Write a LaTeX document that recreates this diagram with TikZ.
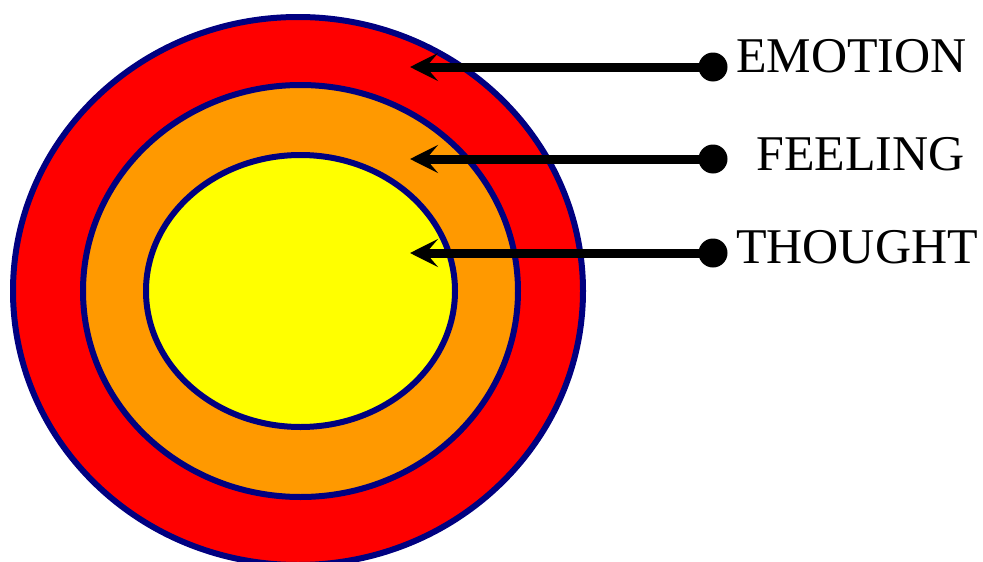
\documentclass[tikz,border=0pt]{standalone}
\usepackage{xcolor}
\usepackage{tikz}
\usepackage{fontspec}
\setmainfont{Liberation Serif}
\usetikzlibrary{shapes.geometric,arrows.meta}
\definecolor{RingBlue}{HTML}{000080}
\definecolor{EmoRed}{HTML}{FF0000}
\definecolor{FeelOrange}{HTML}{FF9900}
\definecolor{ThoughtYellow}{HTML}{FFFF00}

\tikzset{
  ring/.style={ellipse, draw=RingBlue, line width=6pt, inner sep=0pt},
  pin/.style={circle, fill=black, inner sep=0pt, minimum size=29pt},
  pointer/.style={line width=9pt, -{Stealth[length=28pt, width=28pt, inset=12pt]}},
  tag/.style={anchor=base west, inner sep=0pt, font=\fontsize{50}{60}\selectfont}
}

\begin{document}
\begin{tikzpicture}[x=1pt, y=-1pt]
        \useasboundingbox (0,0) rectangle (983,562);
        % the three rings
        \node[ring, fill=EmoRed, minimum width=570pt, minimum height=548pt] (emotion) at (298,291) {};
        \node[ring, fill=FeelOrange, minimum width=435pt, minimum height=412pt] (feeling) at (300.5,291) {};
        \node[ring, fill=ThoughtYellow, minimum width=309pt, minimum height=272pt] (thought) at (300.5,291) {};
        % arrow targets
        \coordinate (tEmotion) at (410,67);
        \coordinate (tFeeling) at (410,159);
        \coordinate (tThought) at (410,253);
        % dots
        \node[pin] (pEmotion) at (713,67) {};
        \node[pin] (pFeeling) at (713,159) {};
        \node[pin] (pThought) at (713,253) {};
        \draw[pointer] (pEmotion.center) -- (tEmotion);
        \draw[pointer] (pFeeling.center) -- (tFeeling);
        \draw[pointer] (pThought.center) -- (tThought);
        % labels
        \node[tag] (lEmotion) at (736,72) {EMOTION};
        \node[tag] (lFeeling) at (756,170) {FEELING};
        \node[tag] (lThought) at (736,263) {THOUGHT};
      \end{tikzpicture}
\end{document}
